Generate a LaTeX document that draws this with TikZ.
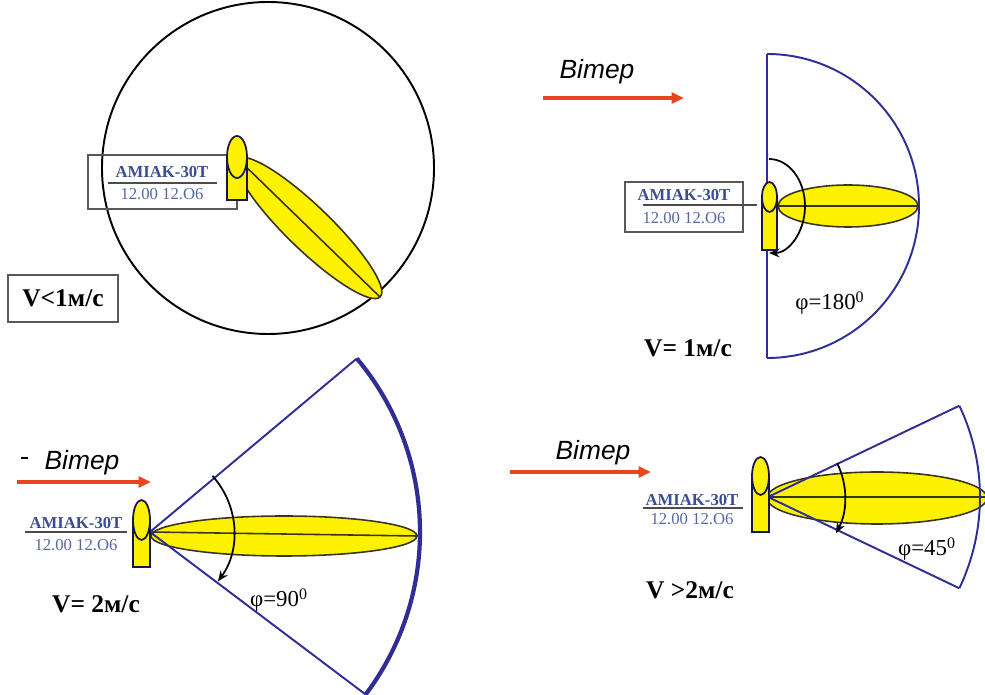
\documentclass[tikz,border=0pt]{standalone}
\usepackage{fontspec}
\setmainfont{Liberation Serif}
\newfontfamily\windfont{Liberation Sans}
\usetikzlibrary{arrows.meta}
\definecolor{sectorblue}{HTML}{2E2E96}
\definecolor{tagblue}{HTML}{3A4C94}
\definecolor{windred}{HTML}{E8451C}
\definecolor{beamline}{HTML}{3A3320}

\begin{document}
\begin{tikzpicture}[x=0.02cm, y=-0.02cm,
    beam/.style={fill=yellow, draw=beamline, line width=0.9pt},
    lamp/.style={fill=yellow, draw=sectorblue!50!black, line width=1pt},
    sector/.style={draw=sectorblue, line width=1.1pt},
    turn/.style={draw=black, line width=1pt, -{Stealth[length=6pt,width=5pt]}},
    wind/.style={draw=windred, line width=1.8pt, -{Triangle[length=7pt,width=6pt]}},
    windtext/.style={font=\windfont\itshape\fontsize{15}{17}\selectfont},
    tag/.style={text=tagblue, font=\bfseries\fontsize{9.5}{11}\selectfont, inner sep=0pt},
    date/.style={text=tagblue!85, font=\fontsize{9.5}{11}\selectfont, inner sep=0pt},
    speed/.style={font=\bfseries\fontsize{14.5}{17}\selectfont},
    phi/.style={font=\fontsize{13}{15}\selectfont}]

    \useasboundingbox (0,0) rectangle (985,695);

    % Panel 1: calm, round zone
    \draw[black, line width=1.1pt] (268,168) circle [radius=166];
    \draw[gray!70!black, line width=0.7pt] (88,155) rectangle (237,209);
    \coordinate (b1s) at (238,159);
    \coordinate (b1e) at (380,297);
    \draw[beam, rotate around={-44:(309,228)}] (309,228) ellipse [x radius=99, y radius=22];
    \draw[beamline, line width=0.9pt] (b1s) -- (b1e);
    \draw[gray!70!black, line width=0.7pt] (8,275) rectangle (118,322);
    \node[speed] (v1) at (63,298) {V<1м/с};

    % Panel 2: half circle
    \coordinate (apex2) at (768,206);
    \coordinate (s2top) at (767,54);
    \draw[sector] (s2top) arc [start angle=-90, end angle=90, radius=152] coordinate (s2bot);
    \draw[sector] (s2top) -- (s2bot);
    \draw[gray!70!black, line width=0.7pt] (625,182) rectangle (743,232);
    \coordinate (b2s) at (770,206);
    \coordinate (b2e) at (918,206);
    \draw[beam] (848,206) ellipse [x radius=70, y radius=21];
    \draw[beamline, line width=0.9pt] (b2s) -- (b2e);
    \draw[turn] (769,159) arc [start angle=-90, end angle=90, x radius=36, y radius=47];
    \node[phi] (phi2) at (830,303) {φ=180\textsuperscript{0}};
    \node[speed] (v2) at (688,348) {V= 1м/с};
    \node[windtext] (w2) at (597,72) {Вітер};
    \coordinate (w2s) at (543,98);
    \coordinate (w2e) at (684,98);
    \draw[wind] (w2s) -- (w2e);

    % Panel 3: sector 90
    \coordinate (apex3) at (150,532);
    \coordinate (b3e) at (417,536);
    \draw[beam] (284,536) ellipse [x radius=133, y radius=20];
    \draw[beamline, line width=0.9pt] (apex3) -- (b3e);
    \draw[sector] (apex3) -- ++(-40:270) coordinate (s3top);
    \draw[sectorblue, line width=2.4pt] (s3top) arc [start angle=-40, end angle=37, radius=270] coordinate (s3bot);
    \draw[sector] (apex3) -- (s3bot);
    \draw[turn] (apex3) ++(-42:84) arc [start angle=-42, end angle=36, radius=84];
    \node[phi] (phi3) at (279,600) {φ=90\textsuperscript{0}};
    \node[speed] (v3) at (96,604) {V= 2м/с};
    \node[windtext] (w3) at (82,463) {Вітер};
    \draw[black, line width=0.8pt] (21,458) -- (28,458);
    \coordinate (w3s) at (17,482);
    \coordinate (w3e) at (151,482);
    \draw[wind] (w3s) -- (w3e);

    % Panel 4: sector 45
    \coordinate (apex4) at (768,497);
    \coordinate (b4e) at (986,497);
    \draw[beam] (877,498) ellipse [x radius=110, y radius=26];
    \draw[beamline, line width=0.9pt] (apex4) -- (b4e);
    \draw[sector] (apex4) -- ++(-25.5:212) coordinate (s4top);
    \draw[sector] (s4top) arc [start angle=-25.5, end angle=25.5, radius=212] coordinate (s4bot);
    \draw[sector] (apex4) -- (s4bot);
    \draw[turn] (apex4) ++(-26:77) arc [start angle=-26, end angle=28, radius=77];
    \node[phi] (phi4) at (927,549) {φ=45\textsuperscript{0}};
    \node[speed] (v4) at (690,590) {V >2м/с};
    \node[windtext] (w4) at (593,453) {Вітер};
    \coordinate (w4s) at (510,472);
    \coordinate (w4e) at (651,472);
    \draw[wind] (w4s) -- (w4e);

    % lamps
    \foreach \cx/\cy/\rx/\ry/\bot in {237/157/10/21/200, 769.5/197/7.5/15/250,
                                      141.5/520/8.5/20/567, 760.5/476/8.5/19/532} {
        \draw[lamp] (\cx-\rx,\cy) rectangle (\cx+\rx,\bot);
        \draw[lamp] (\cx,\cy) ellipse [x radius=\rx, y radius=\ry];
    }

    % device tags
    \foreach \i/\x/\ya/\yb/\yl/\la/\lb in {1/162/172/194/183/108/217, 2/684/195/218/205/643/757,
                                           3/76/523/545/532/25/127, 4/692/500/519/508/643/743} {
        \node[tag] (tag\i) at (\x,\ya) {AMIAK-30T};
        \node[date] (date\i) at (\x,\yb) {12.00 12.O6};
        \draw[gray!60!black, line width=0.6pt] (\la,\yl) -- (\lb,\yl);
    }
\end{tikzpicture}
\end{document}
